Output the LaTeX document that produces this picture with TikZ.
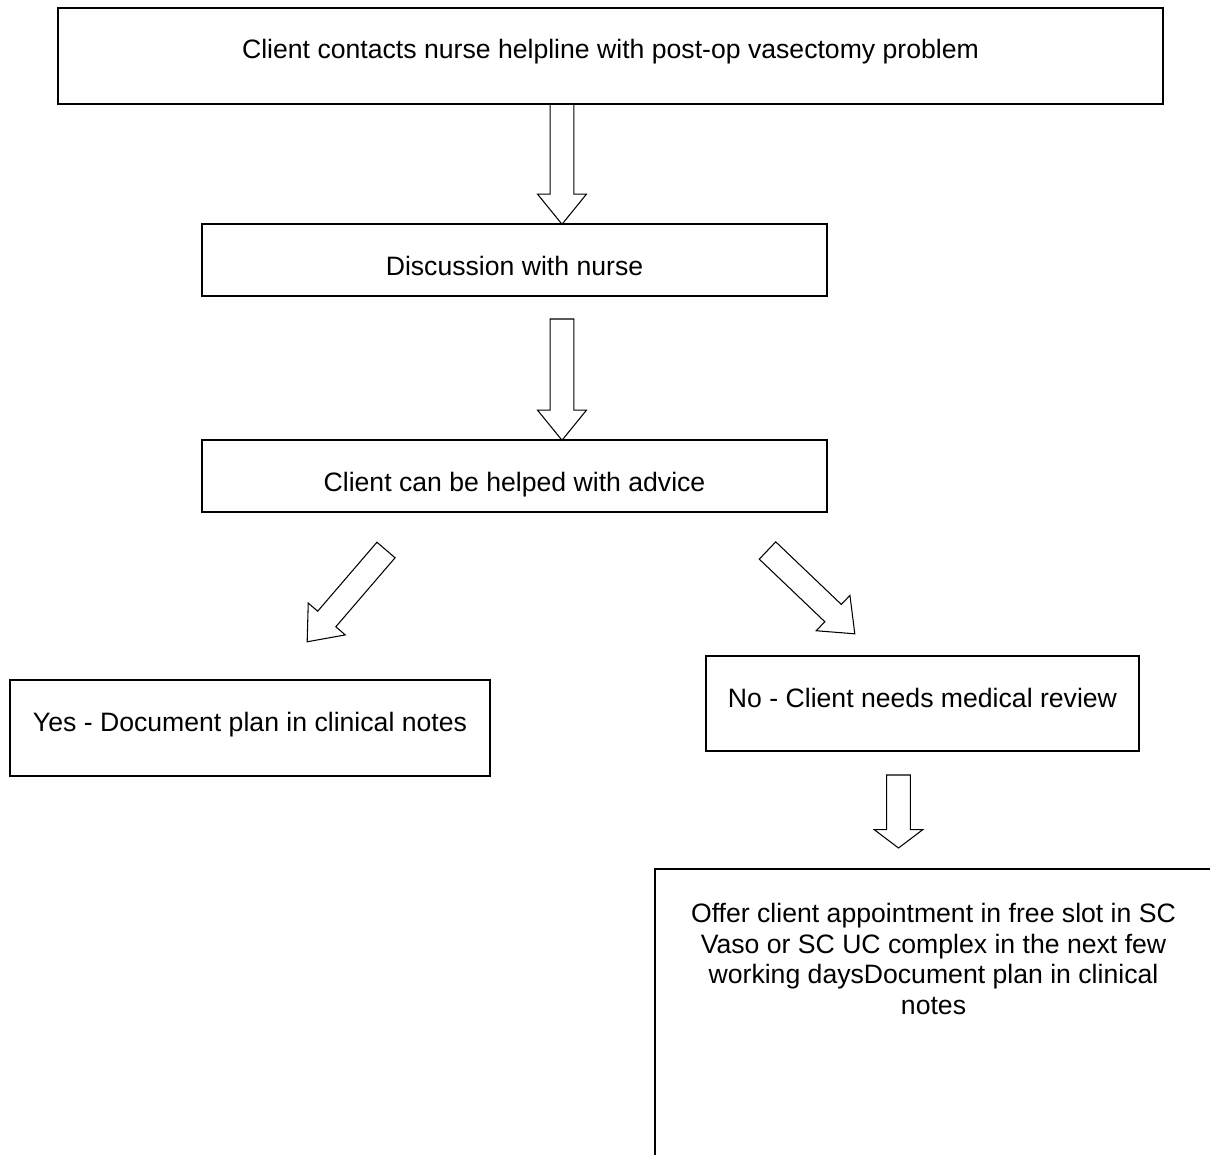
\documentclass[tikz,border=0pt]{standalone}
\usepackage{fontspec}
\setmainfont[Ligatures=NoCommon]{Liberation Sans}
\usepackage{tikz}
\usetikzlibrary{calc}

\tikzset{
  flowbox/.style={draw, line width=1pt, rectangle, inner sep=0pt, outer sep=0pt},
  flowtext/.style={anchor=base, inner sep=0pt, font=\fontsize{15.15pt}{17.4pt}\selectfont},
  blockline/.style={draw, line width=0.6pt, line join=miter}
}

% hollow block arrow from #2 to #3, #1 = head length
\newcommand{\hollowarrow}[3][17.1pt]{%
  \draw[blockline] let \p1=(#2), \p2=(#3),
    \n1={atan2(\y2-\y1,\x2-\x1)}, \n2={veclen(\x2-\x1,\y2-\y1)} in
    [shift={(\p1)}, rotate=\n1]
    (0pt,-6.8pt) -- (\n2-#1,-6.8pt) -- (\n2-#1,-13.9pt) -- (\n2,0pt)
    -- (\n2-#1,13.9pt) -- (\n2-#1,6.8pt) -- (0pt,6.8pt) -- cycle;}

\begin{document}
\begin{tikzpicture}[x=0.02cm, y=-0.02cm]
      \useasboundingbox (0,0) rectangle (1210,1155);
      \clip (0,0) rectangle (1210,1155);

      \node[flowbox, minimum width=22.1cm, minimum height=1.92cm] (contact) at (610.5, 56) {};
      \node[flowbox, minimum width=12.5cm, minimum height=1.43cm] (discuss) at (514.5, 260) {};
      \node[flowbox, minimum width=12.5cm, minimum height=1.43cm] (advice) at (514.5, 476) {};
      \node[flowbox, minimum width=9.6cm, minimum height=1.92cm] (yes) at (250, 728) {};
      \node[flowbox, minimum width=8.66cm, minimum height=1.9cm] (no) at (922.5, 703.5) {};
      \node[flowbox, minimum width=11.14cm, minimum height=6.62cm] (offer) at (933.5, 1034.5) {};

      \node[flowtext] (contact-t) at (610.5, 58.3) {Client contacts nurse helpline with post-op vasectomy problem};
      \node[flowtext] (discuss-t) at (514.5, 275.7) {Discussion with nurse};
      \node[flowtext] (advice-t) at (514.5, 491.7) {Client can be helped with advice};
      \node[flowtext] (yes-t) at (250, 731) {Yes - Document plan in clinical notes};
      \node[flowtext] (no-t) at (922.5, 707) {No - Client needs medical review};
      \node[flowtext, anchor=center, align=center] (offer-t) at (933.5, 959)
        {Offer client appointment in free slot in SC\\Vaso or SC UC complex in the next few\\working daysDocument plan in clinical\\notes};

      \coordinate (down1) at (562, 0);
      \coordinate (down2) at (562, 319);
      \coordinate (left-s) at (386, 550);
      \coordinate (left-e) at (307, 642);
      \coordinate (right-s) at (767.5, 550.5);
      \coordinate (right-e) at (855, 634);
      \coordinate (down3-s) at (898.5, 775);
      \coordinate (down3-e) at (898.5, 848);

      \hollowarrow{down1 |- contact.south}{down1 |- discuss.north}
      \hollowarrow{down2}{down2 |- advice.north}
      \hollowarrow{left-s}{left-e}
      \hollowarrow{right-s}{right-e}
      \hollowarrow[10.5pt]{down3-s}{down3-e}
\end{tikzpicture}
\end{document}
